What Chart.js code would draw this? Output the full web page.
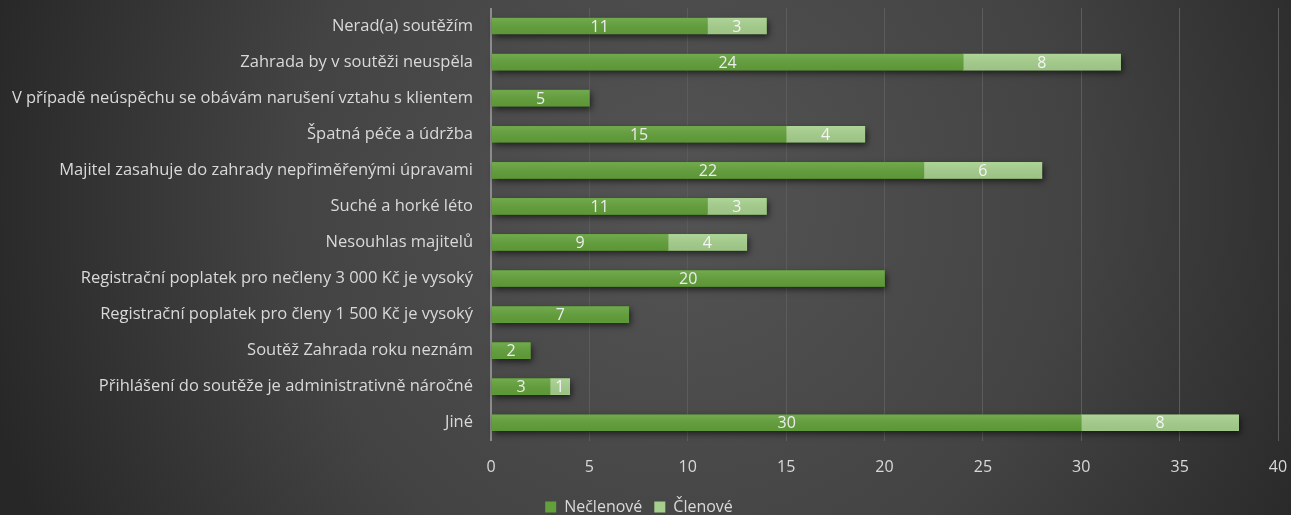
<!DOCTYPE html>
<html>
<head>
<meta charset="utf-8">
<script src="https://cdn.jsdelivr.net/npm/chart.js@4"></script>
<style>
html,body{margin:0;padding:0;background:#333;}
#wrap{width:1291px;height:515px;position:relative;}
</style>
</head>
<body>
<div id="wrap"><canvas id="c" width="1291" height="515"></canvas></div>
<script>
const categories = [
  "Nerad(a) soutěžím",
  "Zahrada by v soutěži neuspěla",
  "V případě neúspěchu se obávám narušení vztahu s klientem",
  "Špatná péče a údržba",
  "Majitel zasahuje do zahrady nepřiměřenými úpravami",
  "Suché a horké léto",
  "Nesouhlas majitelů",
  "Registrační poplatek pro nečleny 3 000 Kč je vysoký",
  "Registrační poplatek pro členy 1 500 Kč je vysoký",
  "Soutěž Zahrada roku neznám",
  "Přihlášení do soutěže je administrativně náročné",
  "Jiné"
];
const necleni = [11, 24, 5, 15, 22, 11, 9, 20, 7, 2, 3, 30];
const cleni   = [3, 8, null, 4, 6, 3, 4, null, null, null, 1, 8];
const seriesNames = ["Nečlenové", "Členové"];
const xTicks = [0, 5, 10, 15, 20, 25, 30, 35, 40];

const FONT = "'Open Sans', sans-serif";
const TEXT = "#d9d9d9";

const bgPlugin = {
  id: 'bg',
  beforeDraw(chart) {
    const ctx = chart.ctx, w = chart.width, h = chart.height;
    ctx.save();
    const g = ctx.createRadialGradient(680, 200, 0, 680, 200, 720);
    g.addColorStop(0, '#545454');
    g.addColorStop(0.55, '#434343');
    g.addColorStop(1, '#272727');
    ctx.fillStyle = g;
    ctx.fillRect(0, 0, w, h);
    ctx.restore();
  }
};

const barFx = {
  id: 'barfx',
  beforeDatasetsDraw(chart) {
    const ctx = chart.ctx;
    const m0 = chart.getDatasetMeta(0), m1 = chart.getDatasetMeta(1);
    ctx.save();
    ctx.shadowColor = 'rgba(0,0,0,0.6)';
    ctx.shadowBlur = 6;
    ctx.shadowOffsetX = 2;
    ctx.shadowOffsetY = 3;
    ctx.fillStyle = '#4a7a2c';
    m0.data.forEach((b, i) => {
      const b1 = m1.data[i];
      let right = b.x;
      if (chart.data.datasets[1].data[i] != null) right = Math.max(right, b1.x);
      const h = b.height;
      ctx.fillRect(b.base, b.y - h / 2, right - b.base, h);
    });
    ctx.restore();
  },
  afterDatasetsDraw(chart) {
    const ctx = chart.ctx;
    ctx.save();
    chart.data.datasets.forEach((ds, di) => {
      const meta = chart.getDatasetMeta(di);
      meta.data.forEach((bar, i) => {
        if (ds.data[i] == null) return;
        const h = bar.height, top = bar.y - h / 2;
        const g = ctx.createLinearGradient(0, top, 0, top + h);
        g.addColorStop(0, 'rgba(255,255,255,0.10)');
        g.addColorStop(1, 'rgba(0,0,0,0.06)');
        ctx.fillStyle = g;
        ctx.fillRect(Math.min(bar.base, bar.x), top, Math.abs(bar.x - bar.base), h);
      });
    });
    ctx.font = "16px " + FONT;
    ctx.textAlign = 'center';
    ctx.textBaseline = 'middle';
    chart.data.datasets.forEach((ds, di) => {
      const meta = chart.getDatasetMeta(di);
      meta.data.forEach((bar, i) => {
        const v = ds.data[i];
        if (v == null || v === 0) return;
        const cx = (bar.x + bar.base) / 2;
        ctx.fillStyle = di === 0 ? '#ececec' : '#f4f4f4';
        ctx.fillText(String(v), cx, bar.y + 1);
      });
    });
    ctx.restore();
  }
};

new Chart(document.getElementById('c'), {
  type: 'bar',
  data: {
    labels: categories,
    datasets: [
      { label: seriesNames[0], data: necleni, backgroundColor: '#62a03a', borderWidth: 0 },
      { label: seriesNames[1], data: cleni, backgroundColor: '#a6cf8d', borderWidth: 0 }
    ]
  },
  options: {
    indexAxis: 'y',
    responsive: false,
    animation: false,
    devicePixelRatio: 1,
    layout: { padding: { left: 0, right: 13, top: 8, bottom: -10 } },
    datasets: { bar: { barThickness: 16 } },
    scales: {
      x: {
        stacked: true,
        min: 0, max: 40,
        afterBuildTicks(axis) { axis.ticks = xTicks.map(v => ({ value: v })); },
        afterFit(axis) { axis.height -= 7; axis.paddingLeft = 0; axis.paddingRight = 0; },
        ticks: { color: TEXT, font: { family: FONT, size: 16 }, padding: 17 },
        grid: {
          color: ctx => ctx.index === 0 ? '#8c8c8c' : '#5c5c5c',
          lineWidth: ctx => ctx.index === 0 ? 2 : 1,
          drawTicks: false
        },
        border: { display: false }
      },
      y: {
        stacked: true,
        afterFit(axis) { axis.width = 491; axis.paddingTop = 0; axis.paddingBottom = 0; },
        ticks: { color: TEXT, font: { family: FONT, size: 16.5 }, padding: 18 },
        grid: { display: false, drawTicks: false },
        border: { display: false }
      }
    },
    plugins: {
      legend: {
        position: 'bottom',
        labels: {
          color: TEXT,
          font: { family: FONT, size: 16 },
          boxWidth: 11, boxHeight: 11,
          padding: 12
        }
      },
      tooltip: { enabled: false }
    }
  },
  plugins: [bgPlugin, barFx]
});
</script>
</body>
</html>
